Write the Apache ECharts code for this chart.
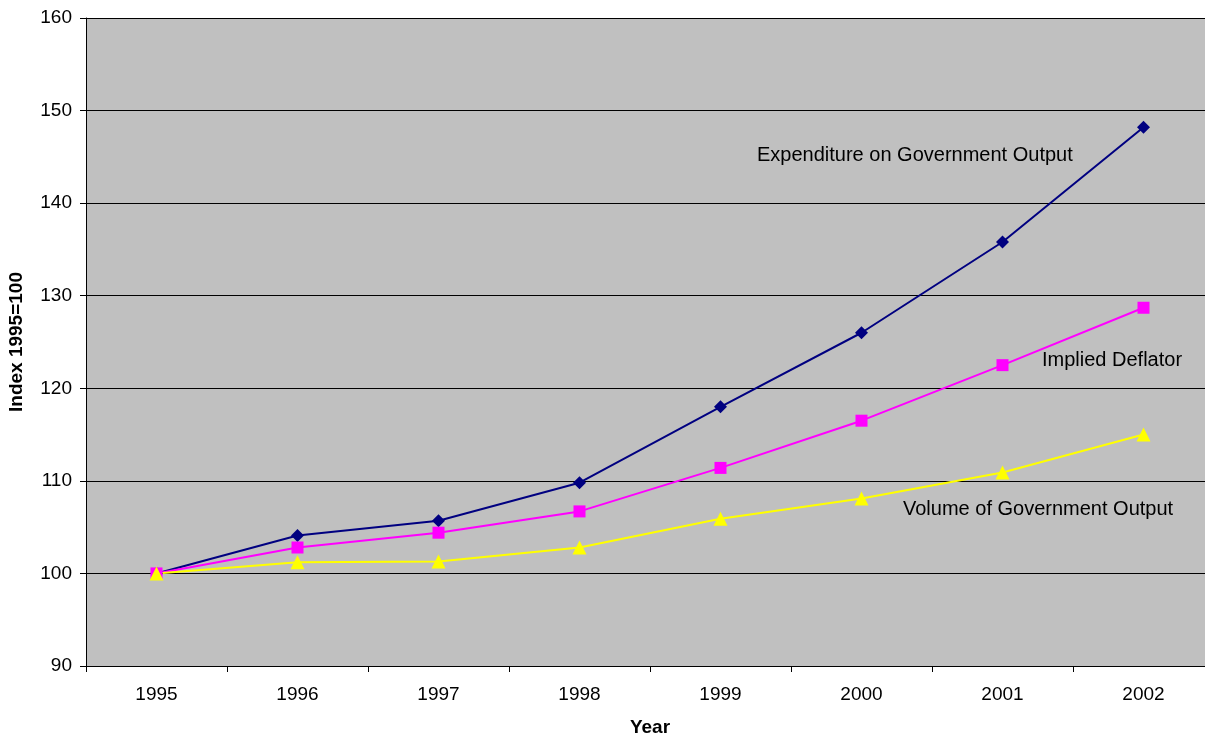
<!DOCTYPE html>
<html>
<head>
<meta charset="utf-8">
<script src="https://cdn.jsdelivr.net/npm/echarts@6/dist/echarts.min.js"></script>
<style>
html, body { margin: 0; padding: 0; background: #fff; }
#chart { width: 1205px; height: 738px; }
</style>
</head>
<body>
<div id="chart"></div>
<script>
var years = ['1995', '1996', '1997', '1998', '1999', '2000', '2001', '2002'];
var expenditure = [100, 104.1, 105.7, 109.8, 118.0, 126.0, 135.8, 148.2];
var deflator = [100, 102.8, 104.4, 106.7, 111.4, 116.5, 122.5, 128.7];
var volume = [100, 101.2, 101.3, 102.8, 105.9, 108.1, 110.9, 115.0];

var chartDom = document.getElementById('chart');
var myChart = echarts.init(chartDom);
var font = '"Liberation Sans", Arial, sans-serif';

var option = {
    animation: false,
    textStyle: { fontFamily: font },
    grid: {
        left: 86,
        top: 18,
        width: 1128,
        height: 648,
        outerBoundsMode: 'none',
        containLabel: false,
        show: true,
        backgroundColor: '#c0c0c0',
        borderWidth: 0
    },
    xAxis: {
        type: 'category',
        data: years,
        name: 'Year',
        nameLocation: 'middle',
        nameGap: 52,
        nameTextStyle: { fontFamily: font, fontSize: 19, fontWeight: 'bold', color: '#000' },
        axisLine: { lineStyle: { color: '#000', width: 1 } },
        axisTick: { show: true, length: 6, lineStyle: { color: '#000' } },
        axisLabel: { fontFamily: font, fontSize: 19, color: '#000', margin: 19 },
        splitLine: { show: false }
    },
    yAxis: {
        type: 'value',
        min: 90,
        max: 160,
        interval: 10,
        name: 'Index 1995=100',
        nameLocation: 'middle',
        nameGap: 60,
        nameRotate: 90,
        nameTextStyle: { fontFamily: font, fontSize: 19, fontWeight: 'bold', color: '#000' },
        axisLine: { show: true, lineStyle: { color: '#000', width: 1 } },
        axisTick: { show: true, length: 6, lineStyle: { color: '#000' } },
        axisLabel: { fontFamily: font, fontSize: 19, color: '#000', margin: 14 },
        splitLine: { show: true, lineStyle: { color: '#000', width: 1 } }
    },
    series: [
        {
            name: 'Expenditure on Government Output',
            type: 'line',
            data: expenditure,
            symbol: 'diamond',
            symbolSize: 13,
            lineStyle: { color: '#000080', width: 2 },
            itemStyle: { color: '#000080' }
        },
        {
            name: 'Implied Deflator',
            type: 'line',
            data: deflator,
            symbol: 'rect',
            symbolSize: 12,
            lineStyle: { color: '#ff00ff', width: 2 },
            itemStyle: { color: '#ff00ff' }
        },
        {
            name: 'Volume of Government Output',
            type: 'line',
            data: volume,
            symbol: 'triangle',
            symbolSize: 14,
            lineStyle: { color: '#ffff00', width: 2 },
            itemStyle: { color: '#ffff00' }
        }
    ],
    graphic: [
        { type: 'text', left: 757, top: 145, style: { text: 'Expenditure on Government Output', font: '20px ' + font, fill: '#000' } },
        { type: 'text', left: 1042, top: 350, style: { text: 'Implied Deflator', font: '20px ' + font, fill: '#000' } },
        { type: 'text', left: 903, top: 499, style: { text: 'Volume of Government Output', font: '20px ' + font, fill: '#000' } }
    ]
};

option && myChart.setOption(option);
</script>
</body>
</html>
